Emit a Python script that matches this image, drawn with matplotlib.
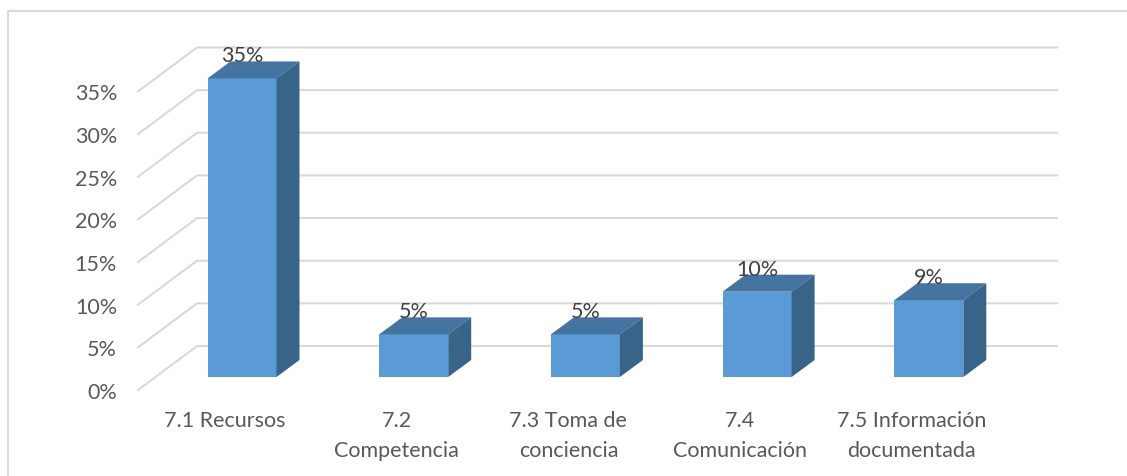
import matplotlib
matplotlib.use('Agg')
import matplotlib.pyplot as plt

categories = ['7.1 Recursos', '7.2\nCompetencia', '7.3 Toma de\nconciencia', '7.4\nComunicación', '7.5 Información\ndocumentada']
values = [35, 5, 5, 10, 9]
labels = ['35%', '5%', '5%', '10%', '9%']
ticks = [0, 5, 10, 15, 20, 25, 30, 35]

W, H = 1127, 477
step = 171.7      # px per category
unit = 8.53       # px per percent
x0, y0 = 242, 378 # pixel of first bar centre / bar base

plt.rcParams['font.family'] = ['Lato', 'DejaVu Sans']

fig = plt.figure(figsize=(W / 100, H / 100), dpi=100)
ax = fig.add_axes([0, 0, 1, 1])
ax.set_xlim(-x0 / step, (W - x0) / step)
ax.set_ylim((y0 - H) / unit, y0 / unit)
ax.axis('off')

def px(n):
    return n / step

def pct(n):
    return n / unit

grid = '#d9d9d9'
# chart frame
ax.plot([px(8 - x0), px(8 - x0), px(W - x0)], [pct(y0 - H), pct(y0 - 12), pct(y0 - 12)],
        color=grid, lw=1.5, zorder=1)

# walls and floor lines
for t in ticks:
    base = t + pct(y0 - 347)
    ax.plot([px(138 - x0), px(197 - x0), px(1057 - x0)],
            [base - pct(44), base, base], color=grid, lw=1.5, zorder=1)
    ax.text(px(117 - x0), base - pct(46), f'{t}%', ha='right', va='center',
            fontsize=15.5, color='#595959', zorder=5)

half = px(34.5)
dx = px(23)
dy = pct(17)
for i, (v, lab) in enumerate(zip(values, labels)):
    ax.bar(i, v, width=2 * half, color='#5b9bd5', zorder=3)
    ax.fill([i - half, i + half, i + half + dx, i - half + dx],
            [v, v, v + dy, v + dy], color='#44749f', lw=0, zorder=3)
    ax.fill([i + half, i + half + dx, i + half + dx, i + half],
            [0, dy, v + dy, v], color='#39648a', lw=0, zorder=3)
    ax.text(i, v + dy + pct(6), lab, ha='center', va='center',
            fontsize=15.5, color='#404040', zorder=5)

for i, c in enumerate(categories):
    ax.text(i - px(17), -pct(33.5), c, ha='center', va='top', fontsize=15.5,
            color='#595959', linespacing=1.6, zorder=5)

fig.savefig('out.png', dpi=100)
